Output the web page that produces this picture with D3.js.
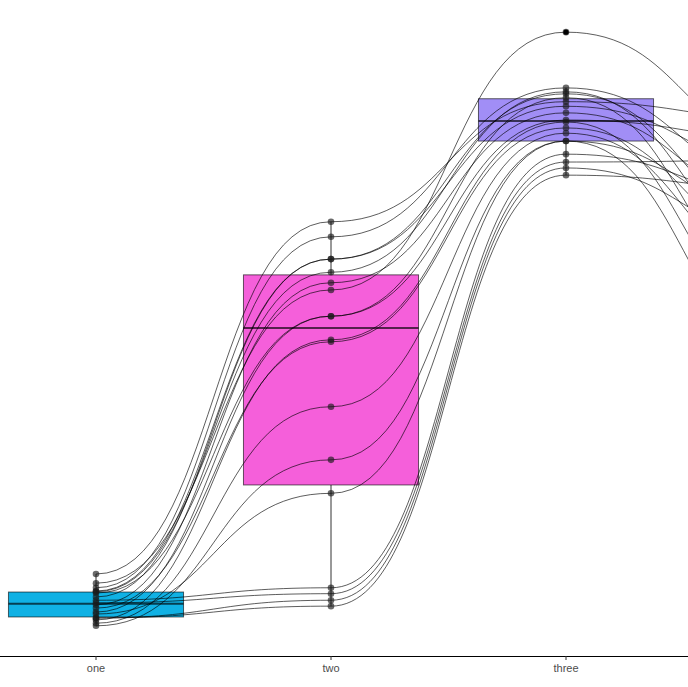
<!DOCTYPE html>
<html><head><meta charset="utf-8">
<script src="https://cdn.jsdelivr.net/npm/d3@7"></script>
<style>body{margin:0;background:#fff} svg{display:block}</style>
</head><body>
<svg id="chart" width="688" height="687"></svg>
<script>
// categories on the x axis (the fourth lies beyond the visible area)
const categories = ["one", "two", "three", "four"];
const boxFills = ["#10B1E4", "#F55FDA", "#A18EF6", "#9BD36A"];
// one value per subject, same subject order in every array
const valuesOne   = [11.1, 12.5, 10.4, 9.9, 9.0, 9.8, 7.8, 6.7, 9.6, 5.5, 7.3, 5.0, 4.6, 6.4, 8.5, 8.1, 5.8, 5.8];
const valuesTwo   = [55.8, 66.2, 63.9, 60.5, 60.5, 58.5, 56.9, 51.8, 51.8, 48.2, 47.9, 38.0, 29.9, 24.8, 10.4, 9.5, 8.5, 7.6];
const valuesThree = [95.1, 84.5, 86.6, 85.7, 83.8, 86.0, 82.8, 85.1, 81.7, 81.4, 80.5, 79.7, 78.5, 78.5, 76.5, 75.3, 74.4, 73.3];
const valuesFour  = [77.1, 81.7, 71.0, 64.9, 74.1, 60.4, 68.0, 54.3, 78.7, 49.7, 61.9, 57.3, 66.5, 45.1, 69.5, 75.6, 63.4, 71.0];

const W = 688, H = 687;
const svg = d3.select("#chart");
const x = d3.scaleBand().domain(categories).range([-21.5, 918.5])
  .paddingInner(0.255).paddingOuter(0.1275);
const y = d3.scaleLinear().domain([0, 100]).range([656, 0]);
const cx = c => x(c) + x.bandwidth() / 2;

const series = [valuesOne, valuesTwo, valuesThree, valuesFour];
const subjects = d3.range(valuesOne.length).map(i =>
  categories.map((c, j) => ({ c, v: series[j][i] })));

// boxplots
const gBox = svg.append("g");
const outPts = [];
categories.forEach((c, j) => {
  const vals = series[j].slice().sort(d3.ascending);
  const q1 = d3.quantile(vals, 0.25), med = d3.quantile(vals, 0.5), q3 = d3.quantile(vals, 0.75);
  const iqr = q3 - q1;
  const lo = d3.min(vals.filter(v => v >= q1 - 1.5 * iqr));
  const hi = d3.max(vals.filter(v => v <= q3 + 1.5 * iqr));
  vals.filter(v => v < lo || v > hi).forEach(v => outPts.push({ c, v }));
  const g = gBox.append("g");
  g.append("line").attr("x1", cx(c)).attr("x2", cx(c)).attr("y1", y(hi)).attr("y2", y(q3))
    .attr("stroke", "#333").attr("stroke-width", 1);
  g.append("line").attr("x1", cx(c)).attr("x2", cx(c)).attr("y1", y(q1)).attr("y2", y(lo))
    .attr("stroke", "#333").attr("stroke-width", 1);
  g.append("rect").attr("x", x(c)).attr("width", x.bandwidth())
    .attr("y", y(q3)).attr("height", y(q1) - y(q3))
    .attr("fill", boxFills[j]).attr("stroke", "#000").attr("stroke-opacity", 0.6).attr("stroke-width", 1);
  g.append("line").attr("x1", x(c)).attr("x2", x(c) + x.bandwidth()).attr("y1", y(med)).attr("y2", y(med))
    .attr("stroke", "#000").attr("stroke-opacity", 0.65).attr("stroke-width", 2);
});

// subject curves
const line = d3.line().x(d => cx(d.c)).y(d => y(d.v)).curve(d3.curveBumpX);
svg.append("g").selectAll("path").data(subjects).join("path")
  .attr("d", line).attr("fill", "none").attr("stroke", "#000")
  .attr("stroke-opacity", 0.8).attr("stroke-width", 0.8);

// points
svg.append("g").selectAll("circle").data(subjects.flat()).join("circle")
  .attr("cx", d => cx(d.c)).attr("cy", d => y(d.v)).attr("r", 3.3)
  .attr("fill", "#1a1a1a").attr("fill-opacity", 0.65);
svg.append("g").selectAll("circle").data(outPts).join("circle")
  .attr("cx", d => cx(d.c)).attr("cy", d => y(d.v)).attr("r", 2.6).attr("fill", "#000");

// x axis
const axis = d3.axisBottom(x).tickSize(4).tickSizeOuter(0).tickPadding(4)
  .tickValues(categories.filter(c => cx(c) < W));
const ga = svg.append("g").attr("transform", "translate(0,656)").call(axis);
ga.select(".domain").attr("stroke", "#000").attr("stroke-width", 1.1);
ga.selectAll(".tick line").attr("stroke", "#333");
ga.selectAll(".tick text").attr("fill", "#4d4d4d").attr("font-size", 11)
  .attr("font-family", "Liberation Sans, Arial, sans-serif");
</script>
</body></html>
